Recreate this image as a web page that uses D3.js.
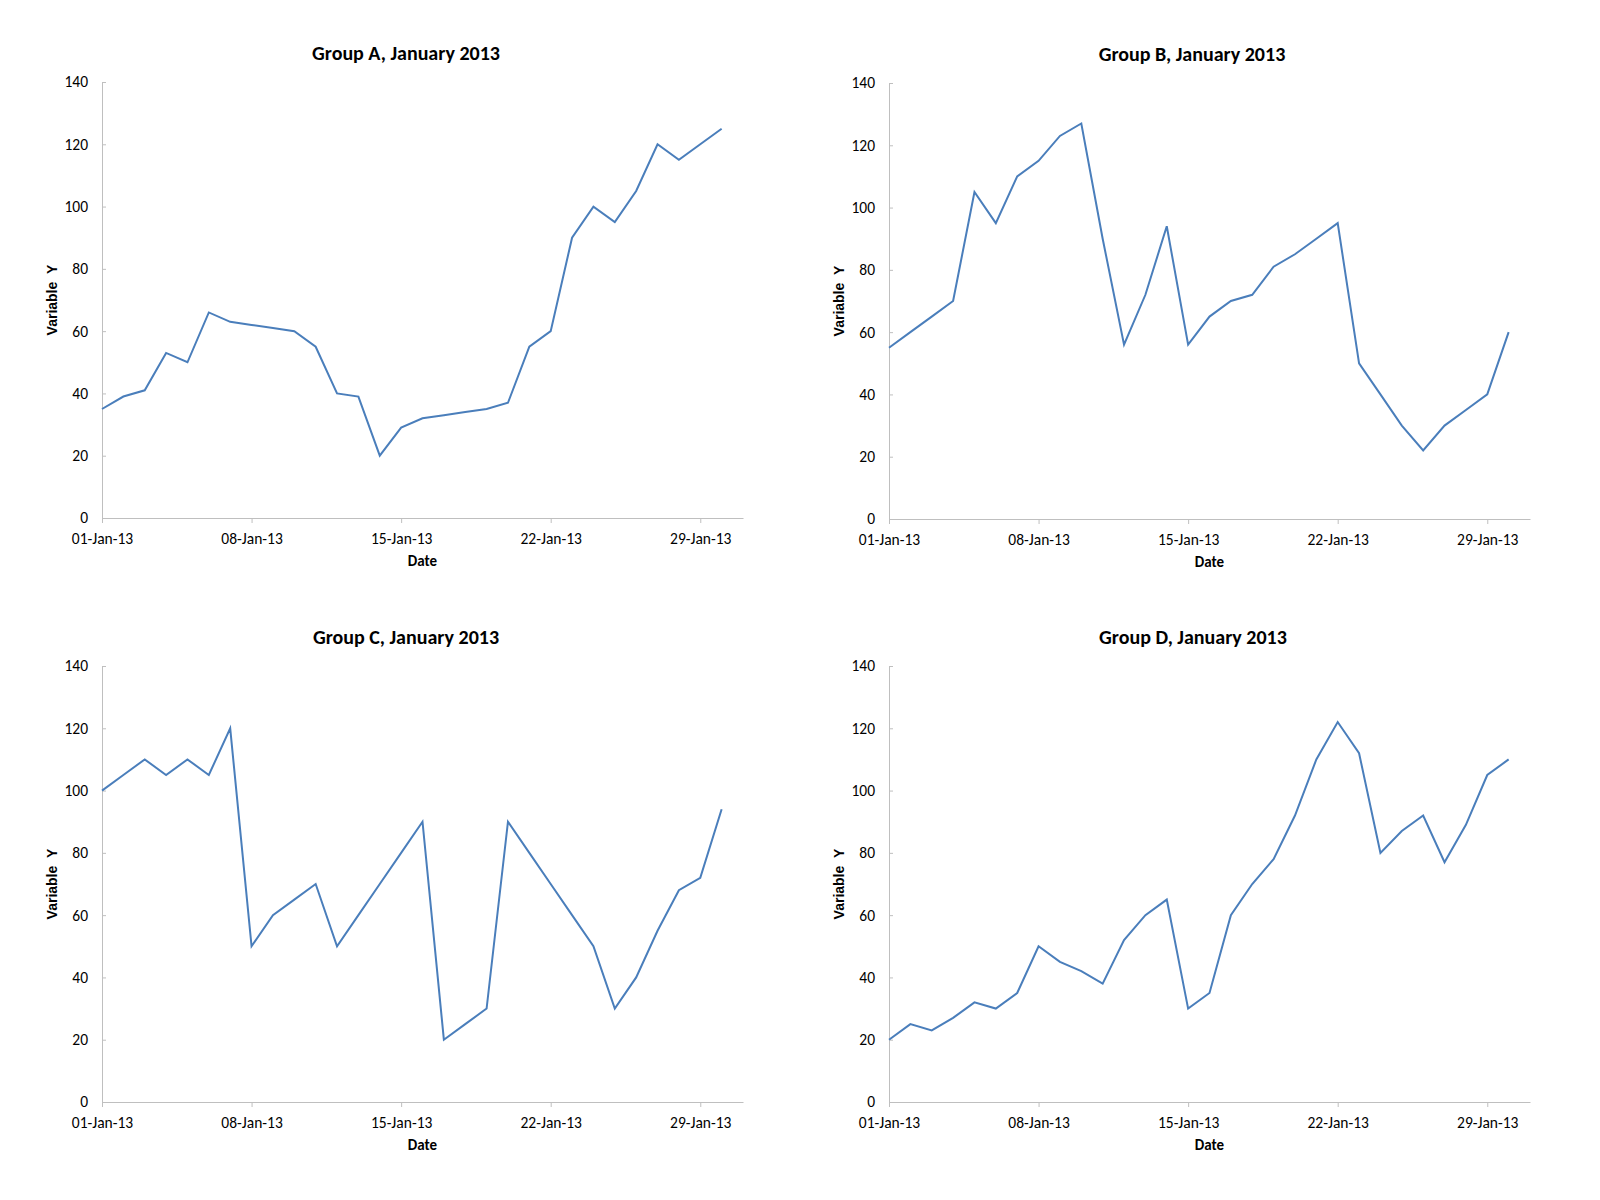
<!DOCTYPE html>
<html>
<head>
<meta charset="utf-8">
<script src="https://cdn.jsdelivr.net/npm/d3@7"></script>
<style>
  html, body { margin: 0; padding: 0; background: #ffffff; }
  svg { display: block; }
</style>
</head>
<body>
<svg id="chart" width="1600" height="1200"></svg>
<script>
// ---- Data ----
const dayNumbers = d3.range(1, 31); // 1..30 January 2013
const groupA = [35, 39, 41, 53, 50, 66, 63, 62, 61, 60, 55, 40, 39, 20, 29, 32, 33, 34, 35, 37, 55, 60, 90, 100, 95, 105, 120, 115, 120, 125];
const groupB = [55, 60, 65, 70, 105, 95, 110, 115, 123, 127, 90, 56, 72, 94, 56, 65, 70, 72, 81, 85, 90, 95, 50, 40, 30, 22, 30, 35, 40, 60];
const groupC = [100, 105, 110, 105, 110, 105, 120, 50, 60, 65, 70, 50, 60, 70, 80, 90, 20, 25, 30, 90, 80, 70, 60, 50, 30, 40, 55, 68, 72, 94];
const groupD = [20, 25, 23, 27, 32, 30, 35, 50, 45, 42, 38, 52, 60, 65, 30, 35, 60, 70, 78, 92, 110, 122, 112, 80, 87, 92, 77, 89, 105, 110];
const panelTitles = ["Group A, January 2013", "Group B, January 2013", "Group C, January 2013", "Group D, January 2013"];
const yTickValues = [0, 20, 40, 60, 80, 100, 120, 140];
const xTickDays = [1, 8, 15, 22, 29];
const xLabel = "Date";
const yLabel = "Variable\u00a0\u00a0Y";

const seriesList = [groupA, groupB, groupC, groupD];
const dates = dayNumbers.map(d => new Date(2013, 0, d));
const xTickDates = xTickDays.map(d => new Date(2013, 0, d));
const fmt = d3.timeFormat("%d-%b-%y");

// ---- Layout ----
const plotW = 641, plotH = 436;
const panels = [
  { left: 102, top: 82, titleX: 406 },
  { left: 889, top: 83, titleX: 1192 },
  { left: 102, top: 666, titleX: 406 },
  { left: 889, top: 666, titleX: 1193 }
];

const svg = d3.select("#chart");
const axisColor = "#bfbfbf";
const lineColor = "#4a7ebb";
const tickFont = "Carlito, Lato, sans-serif";

panels.forEach((p, i) => {
  const g = svg.append("g").attr("transform", `translate(${p.left},${p.top})`);
  const x = d3.scaleTime().domain([new Date(2013, 0, 1), new Date(2013, 0, 31)]).range([0, plotW]);
  const y = d3.scaleLinear().domain([0, 140]).range([plotH, 0]);

  // y axis (ticks inside)
  const yAxis = g.append("g")
    .call(d3.axisLeft(y).tickValues(yTickValues).tickSize(-4).tickPadding(14).tickSizeOuter(0));
  yAxis.select(".domain").attr("stroke", axisColor);
  yAxis.selectAll(".tick line").attr("stroke", axisColor);
  yAxis.selectAll(".tick text")
    .style("font-family", tickFont).style("font-size", "15.5px").attr("fill", "#000");

  // x axis (ticks outside)
  const xAxis = g.append("g").attr("transform", `translate(0,${plotH})`)
    .call(d3.axisBottom(x).tickValues(xTickDates).tickFormat(fmt).tickSize(5).tickPadding(10).tickSizeOuter(0));
  xAxis.select(".domain").attr("stroke", axisColor);
  xAxis.selectAll(".tick line").attr("stroke", axisColor);
  xAxis.selectAll(".tick text")
    .style("font-family", tickFont).style("font-size", "15.5px").attr("fill", "#000");

  // line
  const data = dates.map((d, k) => ({ date: d, value: seriesList[i][k] }));
  g.append("path")
    .datum(data)
    .attr("fill", "none")
    .attr("stroke", lineColor)
    .attr("stroke-width", 2)
    .attr("stroke-linejoin", "miter")
    .attr("d", d3.line().x(d => x(d.date)).y(d => y(d.value)));

  // title
  svg.append("text")
    .attr("x", p.titleX)
    .attr("y", p.top - 22)
    .attr("text-anchor", "middle")
    .style("font-family", tickFont)
    .style("font-weight", "bold")
    .style("font-size", "20px")
    .text(panelTitles[i]);

  // x label
  g.append("text")
    .attr("x", plotW / 2)
    .attr("y", plotH + 48)
    .attr("text-anchor", "middle")
    .style("font-family", tickFont)
    .style("font-weight", "bold")
    .style("font-size", "15px")
    .text(xLabel);

  // y label
  g.append("text")
    .attr("transform", `translate(${-45},${plotH / 2}) rotate(-90)`)
    .attr("text-anchor", "middle")
    .style("font-family", "'Liberation Sans', Arial, sans-serif")
    .style("font-weight", "bold")
    .style("font-size", "14px")
    .text(yLabel);
});
</script>
</body>
</html>
